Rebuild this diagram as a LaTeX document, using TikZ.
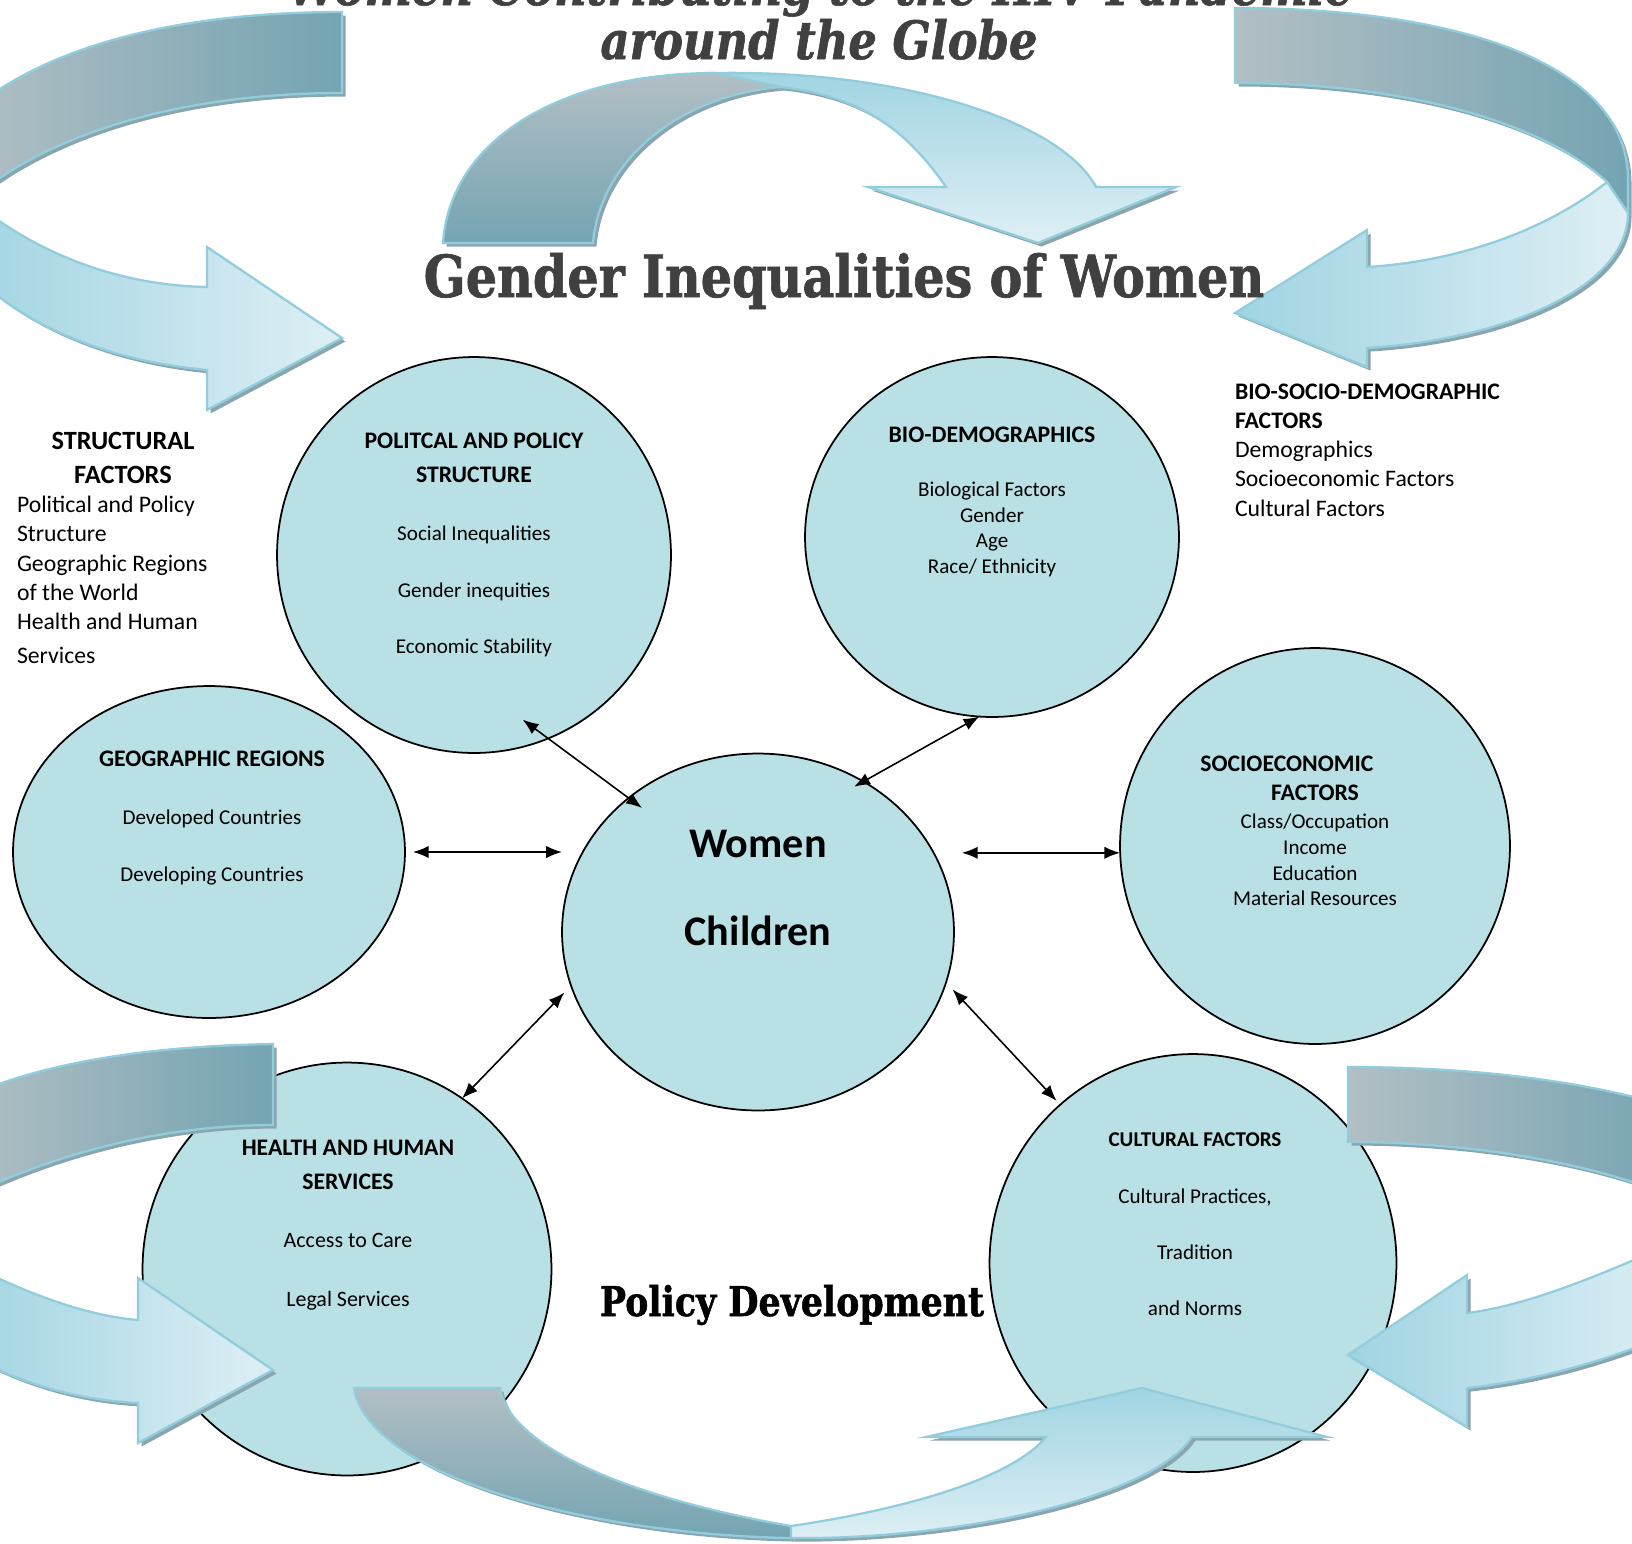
\documentclass[tikz,border=0pt]{standalone}
\usepackage{fontspec}
\setmainfont{Carlito}
\newfontfamily\titlefont[FakeStretch=0.85, FakeBold=1.2]{DejaVu Serif}
\usepackage{tikz}
\usetikzlibrary{shapes,arrows.meta,shadows}

\definecolor{bubblefill}{RGB}{185,224,228}
\definecolor{titlegrey}{RGB}{64,64,64}
\definecolor{greyhi}{RGB}{178,191,196}
\definecolor{greylo}{RGB}{116,164,178}
\definecolor{bluehi}{RGB}{222,239,245}
\definecolor{bluelo}{RGB}{160,212,226}
\definecolor{ribedge}{RGB}{146,205,221}
\definecolor{ribshade}{RGB}{138,165,173}

% bold heading line inside a bubble
\newcommand{\bubblehead}[2][13.5]{{\fontsize{#1}{#1}\selectfont\bfseries #2}}

\begin{document}
\begin{tikzpicture}[x=0.02cm,y=-0.02cm]

  \tikzstyle{every node}=[inner sep=0pt, outer sep=0pt]
  \tikzstyle{bubble}=[ellipse, draw=black, line width=1pt, fill=bubblefill]
  \tikzstyle{link}=[{Latex[length=9pt,width=7pt]}-{Latex[length=9pt,width=7pt]}, line width=0.9pt]
  \tikzstyle{ribbon}=[draw=ribedge, line width=1.3pt, drop shadow={shadow xshift=2pt, shadow yshift=-2pt, fill=ribshade, opacity=1}]
  \tikzstyle{title}=[text=titlegrey]

  \useasboundingbox (0,0) rectangle (1632,1543);
  \clip (0,0) rectangle (1632,1543);

  % factor bubbles
  \node[bubble, minimum width=7.88cm, minimum height=7.92cm] (P) at (474,555) {};
  \node[bubble, minimum width=7.48cm, minimum height=7.2cm] (B) at (992,537) {};
  \node[bubble, minimum width=7.84cm, minimum height=6.64cm] (G) at (209,852) {};
  \node[bubble, minimum width=7.84cm, minimum height=7.14cm] (W) at (758,932) {};
  \node[bubble, minimum width=7.8cm, minimum height=7.92cm] (S) at (1315,846) {};
  \node[bubble, minimum width=8.18cm, minimum height=8.26cm] (H) at (347,1269) {};
  \node[bubble, minimum width=8.14cm, minimum height=8.36cm] (C) at (1193,1263) {};

  \node[align=center, font=\fontsize{12}{19.3}\selectfont] (Pt) at (474,545)
    {\bubblehead{POLITCAL AND POLICY}\\ \bubblehead{STRUCTURE}\\[13.6pt] Social Inequalities\\[13pt] Gender inequities\\[12.5pt] Economic Stability};
  \node[align=center, font=\fontsize{12}{14.7}\selectfont] (Bt) at (992,502)
    {\bubblehead{BIO-DEMOGRAPHICS}\\[15.9pt] Biological Factors\\ Gender\\ Age\\ Race/ Ethnicity};
  \node[align=center, font=\fontsize{12}{14.7}\selectfont] (Gt) at (212,818)
    {\bubblehead{GEOGRAPHIC REGIONS}\\[18.7pt] Developed Countries\\[17.6pt] Developing Countries};
  \node[align=center, font=\fontsize{24}{49.6}\selectfont\bfseries] (Wt) at (758,888) {Women\\ Children};
  \node[align=center, font=\fontsize{12}{14.7}\selectfont] (St) at (1315,831)
    {\bubblehead{SOCIOECONOMIC}\hspace*{32pt}\\[1.7pt] \bubblehead{FACTORS}\\[1.2pt] Class/Occupation\\ Income\\ Education\\ Material Resources};
  \node[align=center, font=\fontsize{12.5}{19.3}\selectfont] (Ht) at (348,1225)
    {\bubblehead{HEALTH AND HUMAN}\\ \bubblehead{SERVICES}\\[13.6pt] Access to Care\\[14.1pt] Legal Services};
  \node[align=center, font=\fontsize{12}{31.8}\selectfont] (Ct) at (1195,1224)
    {\bubblehead[12]{CULTURAL FACTORS}\\[0.5pt] Cultural Practices,\\ Tradition\\ and Norms};

  % two-way links to the centre
  \draw[link, shorten <=-18pt, shorten >=-9.5pt] (P.-68) -- (W.134);
  \draw[link, shorten >=-6pt] (B.-94) -- (W.55);
  \draw[link, shorten <=4.5pt] (G.east) -- (G.east -| W.west);
  \draw[link, shorten <=4.5pt] (S.182 -| W.east) -- (S.182);
  \draw[link, shorten >=5.5pt] (H.56) -- (W.196);
  \draw[link, shorten <=5.5pt, shorten >=3pt] (W.-15) -- (C.130);

  % curved ribbon arrows, top left
  \path[ribbon, left color=greyhi, right color=greylo] (342,12) .. controls (180,12) and (40,45) .. (-40,120) -- (-30,200) .. controls (60,125) and (200,93) .. (342,93) -- cycle;
  \path[ribbon, left color=bluelo, right color=bluehi] (-40,190) .. controls (15,240) and (100,285) .. (207,287) -- (207,247) -- (342,338) -- (207,410) -- (207,370) .. controls (100,360) and (10,320) .. (-40,260) -- cycle;
  % top middle
  \path[ribbon, top color=bluelo, bottom color=bluehi] (716,73) .. controls (900,70) and (1060,120) .. (1096,187) -- (1176,187) -- (1038,243) -- (868,187) -- (946,187) .. controls (900,120) and (850,95) .. (781,87) -- cycle;
  \path[ribbon, top color=greyhi, bottom color=greylo] (443,243) .. controls (450,140) and (560,73) .. (716,73) -- (781,87) .. controls (680,95) and (600,160) .. (593,243) -- cycle;
  % top right
  \path[ribbon, left color=greyhi, right color=greylo] (1235,8) .. controls (1450,8) and (1628,60) .. (1628,180) -- (1628,213) -- (1607,182) .. controls (1540,120) and (1400,83) .. (1235,83) -- cycle;
  \path[ribbon, left color=bluelo, right color=bluehi] (1607,182) .. controls (1540,235) and (1450,262) .. (1367,267) -- (1367,230) -- (1235,313) -- (1367,367) -- (1367,348) .. controls (1500,340) and (1628,290) .. (1628,213) -- cycle;
  % bottom left
  \path[ribbon, left color=greyhi, right color=greylo] (273,1044) .. controls (150,1046) and (40,1062) .. (-40,1100) -- (-40,1200) .. controls (60,1150) and (170,1125) .. (273,1125) -- cycle;
  \path[ribbon, left color=bluelo, right color=bluehi] (-40,1260) .. controls (20,1290) and (80,1315) .. (138,1320) -- (138,1278) -- (273,1370) -- (138,1443) -- (138,1403) .. controls (80,1400) and (20,1385) .. (-40,1350) -- cycle;
  % bottom middle
  \path[ribbon, top color=greyhi, bottom color=greylo] (354,1388) .. controls (370,1480) and (600,1535) .. (791,1538) -- (791,1526) .. controls (640,1500) and (510,1450) .. (500,1388) -- cycle;
  \path[ribbon, top color=bluelo, bottom color=bluehi] (791,1526) .. controls (900,1510) and (1010,1480) .. (1046,1437) -- (926,1437) -- (1142,1388) -- (1327,1437) -- (1192,1437) .. controls (1150,1500) and (950,1540) .. (791,1538) -- cycle;
  % bottom right
  \path[ribbon, left color=greyhi, right color=greylo] (1348,1067) .. controls (1460,1067) and (1580,1078) .. (1680,1110) -- (1680,1200) .. controls (1590,1160) and (1460,1142) .. (1348,1142) -- cycle;
  \path[ribbon, left color=bluelo, right color=bluehi] (1680,1240) .. controls (1600,1275) and (1530,1305) .. (1467,1313) -- (1467,1275) -- (1348,1355) -- (1467,1427) -- (1467,1388) .. controls (1540,1380) and (1610,1360) .. (1680,1330) -- cycle;

  % titles
  \node[title, anchor=base, font=\titlefont\bfseries\itshape\fontsize{30}{30}\selectfont] (T0) at (820,5) {Women Contributing to the HIV Pandemic};
  \node[title, anchor=base, font=\titlefont\bfseries\itshape\fontsize{30}{30}\selectfont] (T1) at (819,59) {around the Globe};
  \node[title, anchor=base, font=\titlefont\bfseries\fontsize{33}{33}\selectfont] (T2) at (844,297) {Gender Inequalities of Women};
  \node[anchor=base, font=\titlefont\bfseries\fontsize{23.3}{23.3}\selectfont] (T3) at (792,1316) {Policy Development};

  % side lists
  \node[align=center, font=\fontsize{15}{19.3}\selectfont\bfseries] (SFh) at (123,458) {STRUCTURAL\\ FACTORS};
  \node[align=left, anchor=west, font=\fontsize{13.5}{16.7}\selectfont] (SFl) at (17,580)
    {Political and Policy\\ Structure\\ Geographic Regions\\ of the World\\ Health and Human\\[2.6pt] Services};
  \node[align=left, anchor=west, font=\fontsize{13.5}{16.6}\selectfont] (BSt) at (1235,450)
    {\textbf{BIO-SOCIO-DEMOGRAPHIC}\\ \textbf{FACTORS}\\ Demographics\\ Socioeconomic Factors\\ Cultural Factors};

\end{tikzpicture}
\end{document}
